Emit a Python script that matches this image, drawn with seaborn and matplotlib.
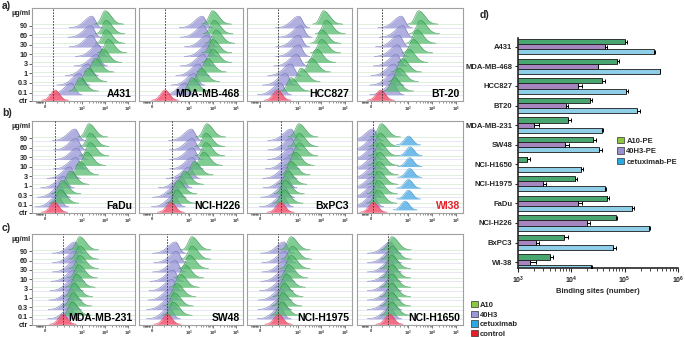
import numpy as np
import pandas as pd
import matplotlib
matplotlib.use("Agg")
import matplotlib.pyplot as plt
from matplotlib.patches import Patch
import seaborn as sns

sns.set_style("ticks")
plt.rcParams['font.family'] = ['Liberation Sans', 'DejaVu Sans']
plt.rcParams['font.weight'] = 'bold'

# ---------------- ridge panels ----------------
# peak positions on the cytometer display axis ("0" = 1.4, 10^3 = 3, 10^4 = 4, 10^5 = 5)
# order of each list: 0.1, 0.3, 1, 3, 10, 30, 60, 90 ug/ml
conc_labels = ['0.1', '0.3', '1', '3', '10', '30', '60', '90']

a431_a10 = [2.90, 3.26, 3.57, 3.90, 4.13, 4.04, 4.04, 4.00]
a431_40h3 = [2.55, 2.90, 3.26, 3.65, 3.70, 3.43, 3.39, 3.43]
mda468_a10 = [3.10, 3.48, 3.77, 3.99, 4.00, 4.13, 4.05, 3.99]
mda468_40h3 = [2.83, 3.20, 3.40, 3.60, 3.77, 3.77, 3.60, 3.55]
hcc827_a10 = [2.70, 3.13, 3.57, 3.78, 4.00, 4.00, 4.20, 4.09]
hcc827_40h3 = [2.26, 2.48, 2.70, 2.96, 3.04, 3.04, 3.13, 3.04]
bt20_a10 = [2.40, 2.60, 2.74, 3.00, 3.20, 3.35, 3.50, 3.43]
bt20_40h3 = [2.35, 2.35, 2.40, 2.50, 2.55, 2.60, 2.76, 2.70]
fadu_a10 = [2.05, 2.13, 2.48, 2.90, 3.20, 3.35, 3.35, 3.30]
fadu_40h3 = [1.96, 2.05, 2.20, 2.48, 2.75, 2.80, 2.75, 2.70]
h226_a10 = [2.45, 2.50, 2.78, 3.20, 3.60, 3.70, 3.70, 3.74]
h226_40h3 = [2.35, 2.40, 2.65, 3.00, 3.13, 3.13, 3.13, 3.09]
bxpc3_a10 = [2.40, 2.45, 2.56, 2.70, 2.87, 3.04, 3.04, 3.04]
bxpc3_40h3 = [2.35, 2.40, 2.50, 2.50, 2.60, 2.70, 2.70, 2.70]
wi38_a10 = [1.70, 1.72, 1.74, 1.75, 1.76, 1.78, 1.80, 1.85]
wi38_40h3 = [1.50, 1.50, 1.52, 1.52, 1.52, 1.50, 1.52, 1.50]
wi38_cetux = [2.86, 3.00, 3.00, 3.05, 3.05, 3.07, 3.00]
mda231_a10 = [2.57, 2.60, 2.65, 2.75, 2.85, 2.90, 2.90, 2.90]
mda231_40h3 = [2.50, 2.52, 2.55, 2.60, 2.65, 2.70, 2.70, 2.70]
sw48_a10 = [2.30, 2.35, 2.45, 2.60, 2.80, 3.00, 3.10, 3.10]
sw48_40h3 = [2.15, 2.15, 2.20, 2.25, 2.30, 2.40, 2.45, 2.40]
h1975_a10 = [2.30, 2.35, 2.40, 2.50, 2.60, 2.70, 2.75, 2.70]
h1975_40h3 = [2.25, 2.28, 2.30, 2.35, 2.40, 2.45, 2.45, 2.40]
h1650_a10 = [2.28, 2.28, 2.28, 2.28, 2.28, 2.28, 2.30, 2.30]
h1650_40h3 = [2.25, 2.25, 2.25, 2.25, 2.25, 2.25, 2.25, 2.25]

panel_names = ['A431', 'MDA-MB-468', 'HCC827', 'BT-20',
               'FaDu', 'NCI-H226', 'BxPC3', 'WI38',
               'MDA-MB-231', 'SW48', 'NCI-H1975', 'NCI-H1650']
ctr_peak = [1.83, 1.95, 2.13, 1.83, 1.80, 2.20, 2.26, 1.52, 2.17, 2.05, 2.17, 2.20]
gate_line = [1.74, 1.95, 2.17, 1.87, 1.83, 2.26, 2.26, 1.52, 2.17, 2.05, 2.17, 2.13]
a10_peaks = [a431_a10, mda468_a10, hcc827_a10, bt20_a10, fadu_a10, h226_a10,
             bxpc3_a10, wi38_a10, mda231_a10, sw48_a10, h1975_a10, h1650_a10]
h40_peaks = [a431_40h3, mda468_40h3, hcc827_40h3, bt20_40h3, fadu_40h3, h226_40h3,
             bxpc3_40h3, wi38_40h3, mda231_40h3, sw48_40h3, h1975_40h3, h1650_40h3]

# ---------------- bar chart (d) ----------------
cells_d = ['A431', 'MDA-MB-468', 'HCC827', 'BT20', 'MDA-MB-231', 'SW48',
           'NCI-H1650', 'NCI-H1975', 'FaDu', 'NCI-H226', 'BxPC3', 'WI-38']
a10_sites = [1.0e5, 7.3e4, 3.7e4, 2.2e4, 8.7e3, 2.6e4, 1.5e3, 1.18e4, 4.7e4, 7.0e4, 7.2e3, 4.0e3]
h40_sites = [4.2e4, 3.1e4, 1.36e4, 8.0e3, 2.0e3, 7.5e3, np.nan, 2.9e3, 1.35e4, 1.95e4, 2.2e3, 1.7e3]
cetux_sites = [3.5e5, 4.5e5, 1.07e5, 1.7e5, 3.7e4, 3.3e4, 1.55e4, 4.2e4, 1.37e5, 2.9e5, 6.0e4, 2.3e4]
a10_err = [1.2e4, 4e3, 6e3, 2e3, 1e3, 3e3, 2e2, 1e3, 4e3, 3e3, 1.5e3, 6e2]
h40_err = [5e3, 1e3, 2e3, 5e2, 5e2, 1.5e3, np.nan, 5e2, 2.5e3, 2.5e3, 3e2, 5e2]
cetux_err = [2e4, 1e4, 1e4, 2.5e4, 3e3, 4e3, 1e3, 3e3, 1e4, 1.5e4, 1e4, 1e3]
antibodies = ['A10-PE', '40H3-PE', 'cetuximab-PE']

W, H = 685, 337
fig = plt.figure(figsize=(W / 100, H / 100), dpi=100)


def px_axes(x0, y0, x1, y1):
    return fig.add_axes([x0 / W, 1 - y1 / H, (x1 - x0) / W, (y1 - y0) / H])


xs = np.linspace(0.8, 5.3, 600)


def bump(center, left, right, height):
    s = np.where(xs < center, left, right)
    return height * np.exp(-0.5 * ((xs - center) / s) ** 2)


def ridge(ax, center, base, left, right, height, fill, edge, alpha, z):
    y = bump(center, left, right, height)
    m = y > 0.01
    ax.fill_between(xs[m], base, base + y[m], color=fill, alpha=alpha, lw=0, zorder=z)
    ax.plot(xs[m], base + y[m], color=edge, lw=0.4, alpha=0.9, zorder=z + 0.1)


col_x = [(32, 135), (139, 243), (247, 352), (357, 463)]
row_y = [(8, 101), (121, 213), (234, 325)]
purple_base = [0.7 + 1.07 * i for i in range(8)]
green_base = [b + 0.4 for b in purple_base]
ctr_base = 0.08

GREEN, GREEN_E = '#55bb6e', '#2f8a4a'
PURPLE, PURPLE_E = '#9d9bd8', '#6f6db5'
BLUE, BLUE_E = '#5cb2e8', '#3a8cc8'
RED, RED_E = '#f2556f', '#d03050'

minor = list(np.arange(1.02, 1.3, 0.025)) + [1.9, 2.2, 2.45, 2.65, 2.8, 2.92]
for d in (3, 4):
    minor += [d + np.log10(k) for k in range(2, 10)]

for p, name in enumerate(panel_names):
    r, c = divmod(p, 4)
    ax = px_axes(col_x[c][0], row_y[r][0], col_x[c][1], row_y[r][1])
    ax.set_xlim(0.83, 5.3)
    ax.set_ylim(0, 10.4)
    for b in purple_base:
        ax.axhline(b, color='#dcdcf0', lw=0.5, zorder=1)
    for b in green_base:
        ax.axhline(b, color='#d2ebcf', lw=0.5, zorder=1)
    for i in range(7, -1, -1):
        z = 10 + (8 - i) * 2
        ridge(ax, h40_peaks[p][i], purple_base[i], 0.32, 0.15, 1.3, PURPLE, PURPLE_E, 0.8, z)
        ridge(ax, a10_peaks[p][i], green_base[i], 0.15, 0.26, 1.5, GREEN, GREEN_E, 0.75, z + 1)
    if name == 'WI38':
        blue_base = np.linspace(0.35, 7.7, len(wi38_cetux))
        for k, cx in enumerate(wi38_cetux):
            ridge(ax, cx, blue_base[k], 0.17, 0.17, 1.0, BLUE, BLUE_E, 0.85, 40 - k)
    ridge(ax, ctr_peak[p], ctr_base, 0.19, 0.19, 1.15, RED, RED_E, 0.85, 50)
    ax.axvline(gate_line[p], color='#333333', lw=0.6, ls=(0, (2, 1.5)), zorder=60)
    ax.text(0.97, 0.02, name, transform=ax.transAxes, ha='right', va='bottom',
            fontsize=7.5, fontweight='bold', zorder=70,
            color='#e8202a' if name == 'WI38' else 'black')
    ax.set_xticks([1.4, 3, 4, 5])
    ax.set_xticklabels(['0', '$\\mathregular{10^3}$', '$\\mathregular{10^4}$',
                        '$\\mathregular{10^5}$'], fontsize=3.0, color='#333333')
    ax.set_xticks(minor, minor=True)
    ax.tick_params(axis='x', which='major', length=2, width=0.5, pad=0.8, color='#444444')
    ax.tick_params(axis='x', which='minor', length=1.2, width=0.4, color='#444444')
    for s in ax.spines.values():
        s.set_color('#a0a0a0')
        s.set_linewidth(0.8)
    if c == 0:
        ax.set_yticks([ctr_base - 0.05] + [b + 0.25 for b in purple_base])
        ax.set_yticklabels(['ctr'] + conc_labels, fontsize=5.2, fontweight='bold')
        ax.tick_params(axis='y', length=2, width=0.5, pad=1)
        ax.text(-0.01, 0.9, 'µg/ml', transform=ax.transAxes, ha='right', va='bottom',
                fontsize=5.2, fontweight='bold')
    else:
        ax.set_yticks([])

for lab, y in zip(['a)', 'b)', 'c)'], [6, 113, 228]):
    fig.text(2 / W, 1 - y / H, lab, fontsize=7.5, fontweight='bold', va='center')

leg1 = [Patch(facecolor=col, edgecolor='#333333', lw=0.5)
        for col in ['#8dc63f', '#9a98dc', '#29abe2', '#ed1c24']]
fig.legend(leg1, ['A10', '40H3', 'cetuximab', 'control'], loc='upper left',
           bbox_to_anchor=(471 / W, 1 - 301 / H), frameon=False, fontsize=5.5,
           handlelength=0.9, handleheight=0.9, handletextpad=0.3, labelspacing=0.25,
           borderaxespad=0, borderpad=0)

# ---------------- panel d ----------------
df = pd.DataFrame({
    'cell': cells_d * 3,
    'antibody': np.repeat(antibodies, len(cells_d)),
    'sites': a10_sites + h40_sites + cetux_sites,
}).dropna()
errs = [a10_err, h40_err, cetux_err]

axd = px_axes(518, 38, 678, 268)
sns.barplot(data=df, y='cell', x='sites', hue='antibody', order=cells_d,
            hue_order=antibodies, orient='h', errorbar=None, width=0.78,
            palette=['#3bb56f', '#a97cc8', '#7fd4f6'], edgecolor='#1a1a1a',
            linewidth=0.6, legend=False, ax=axd)
axd.set_xscale('log')
bar_groups = list(axd.containers)
for h, cont in enumerate(bar_groups):
    for bar in cont:
        w = bar.get_width()
        if not np.isfinite(w):
            continue
        yc = bar.get_y() + bar.get_height() / 2
        e = errs[h][int(round(yc))]
        axd.errorbar(w, yc, xerr=[[0], [e]], fmt='none', ecolor='black',
                     elinewidth=0.7, capsize=1.3, capthick=0.7, zorder=5)
axd.set_xlim(1e3, 1e6)
axd.set_ylim(11.3, -0.45)
axd.set_xticks([1e3, 1e4, 1e5, 1e6])
axd.set_xticklabels(['$\\mathregular{10^3}$', '$\\mathregular{10^4}$',
                     '$\\mathregular{10^5}$', '$\\mathregular{10^6}$'], fontsize=5)
axd.set_ylabel('')
axd.set_xlabel('Binding sites (number)', fontsize=5.5, fontweight='bold', labelpad=2)
axd.tick_params(axis='y', labelsize=5.5, length=2.5, width=0.8, pad=1.5)
axd.tick_params(axis='x', which='major', length=3, width=0.8, pad=1.5)
axd.tick_params(axis='x', which='minor', length=1.8, width=0.6)
for lbl in axd.get_yticklabels():
    lbl.set_fontweight('bold')
sns.despine(ax=axd)
for s in ['left', 'bottom']:
    axd.spines[s].set_linewidth(1.2)

leg2 = [Patch(facecolor=col, edgecolor='#333333', lw=0.5)
        for col in ['#8dc63f', '#9b8fd1', '#29abe2']]
axd.legend(leg2, antibodies, loc='upper left', bbox_to_anchor=(0.62, 0.57),
           frameon=False, fontsize=5.5, handlelength=0.9, handleheight=0.9,
           handletextpad=0.3, labelspacing=0.35, borderaxespad=0, borderpad=0)

fig.text(480 / W, 1 - 15 / H, 'd)', fontsize=7.5, fontweight='bold', va='center')

fig.savefig('out.png', dpi=100)
